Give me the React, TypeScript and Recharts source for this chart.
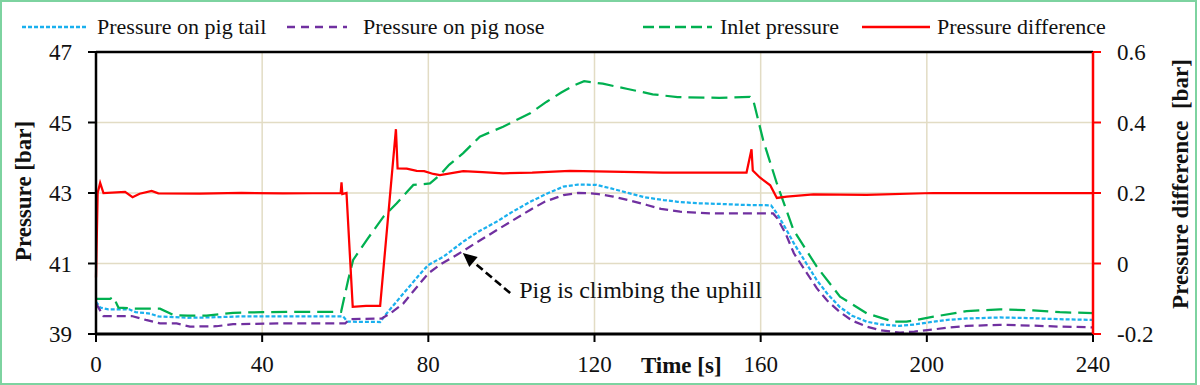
import React from 'react';
import { ComposedChart, Line, XAxis, YAxis, CartesianGrid, ReferenceLine } from 'recharts';

const FONT = '"Liberation Serif", "Times New Roman", serif';

// Axis ticks
const xTicks = [0, 40, 80, 120, 160, 200, 240];
const leftTicks = [39, 41, 43, 45, 47];
const rightTicks = [-0.2, 0, 0.2, 0.4, 0.6];

// Series names
const seriesNames = ['Pressure on pig tail', 'Pressure on pig nose', 'Inlet pressure', 'Pressure difference'];

// Pressure on pig tail [bar]
const tailTime = [0, 1, 3, 8, 9.5, 13, 15, 22, 27, 35, 50, 59.5, 60.5, 68.4, 70, 74, 78, 80, 83.6, 88.4, 92, 96.5, 100, 104.5, 108.5, 112.5, 116, 120.5, 124, 128.5, 132, 136.6, 140, 144.6, 150, 156.6, 162.5, 163.9, 166, 168, 171, 173.5, 176, 179, 182, 185.5, 189, 193.5, 197, 201.6, 205, 209.6, 217.6, 225, 232, 240];
const tailPressure = [39.92, 39.75, 39.7, 39.7, 39.62, 39.58, 39.5, 39.46, 39.47, 39.5, 39.5, 39.5, 39.35, 39.34, 39.59, 40.15, 40.7, 40.96, 41.19, 41.62, 41.9, 42.19, 42.45, 42.75, 42.98, 43.18, 43.24, 43.23, 43.13, 42.99, 42.88, 42.8, 42.75, 42.71, 42.69, 42.66, 42.65, 42.42, 42.0, 41.57, 41.0, 40.53, 40.15, 39.77, 39.52, 39.35, 39.27, 39.23, 39.27, 39.35, 39.4, 39.44, 39.47, 39.45, 39.42, 39.4];

// Pressure on pig nose [bar]
const noseTime = [0, 1.8, 8.6, 12, 15.4, 19.4, 22.6, 29, 33, 45, 60, 61, 68.8, 71, 74, 77, 80, 83, 86.8, 91, 96.5, 100, 104.5, 108, 112.5, 116, 118.9, 121, 124.5, 128, 132.6, 136, 140.6, 148.6, 158, 163, 164, 166, 168, 171, 173.5, 176, 179, 182, 185.5, 189, 193.5, 197, 201.6, 205, 209.6, 217.6, 225, 232, 240];
const nosePressure = [39.87, 39.51, 39.51, 39.4, 39.3, 39.3, 39.21, 39.22, 39.28, 39.3, 39.3, 39.42, 39.44, 39.6, 39.87, 40.3, 40.72, 40.98, 41.24, 41.55, 41.95, 42.2, 42.52, 42.75, 42.94, 43.0, 42.99, 42.97, 42.9, 42.8, 42.66, 42.55, 42.47, 42.42, 42.42, 42.42, 42.28, 41.85, 41.29, 40.75, 40.3, 39.95, 39.63, 39.38, 39.21, 39.1, 39.04, 39.07, 39.13, 39.18, 39.23, 39.26, 39.24, 39.21, 39.19];

// Inlet pressure [bar]
const inletTime = [0, 3.4, 4.2, 5.4, 9, 15.4, 18.6, 22, 26.6, 33, 40, 49, 59, 60.7, 61.9, 65.2, 69.2, 72.4, 75, 76.4, 80.4, 82.8, 85, 88.4, 92.4, 98, 104.5, 108.5, 112, 115, 117.5, 122, 128, 134, 140, 150, 157.4, 158.2, 160.6, 163.9, 167.9, 173.5, 179.1, 185.5, 191.9, 195.1, 201.6, 209.6, 217.6, 225.6, 232, 240];
const inletPressure = [40.0, 40.0, 40.05, 39.75, 39.72, 39.72, 39.54, 39.52, 39.52, 39.6, 39.62, 39.63, 39.63, 40.53, 41.1, 41.67, 42.33, 42.71, 43.05, 43.23, 43.27, 43.51, 43.8, 44.13, 44.6, 44.88, 45.26, 45.59, 45.85, 46.05, 46.17, 46.1, 45.95, 45.8, 45.72, 45.7, 45.73, 45.64, 44.5, 43.27, 41.95, 40.91, 40.06, 39.59, 39.35, 39.35, 39.49, 39.65, 39.7, 39.67, 39.62, 39.59];

// Pressure difference [bar]
const diffTime = [0, 0.4, 1.0, 1.8, 7, 8.8, 10.5, 13.4, 15, 25, 35, 45, 58.9, 59.1, 59.3, 60.3, 61.8, 65, 68.4, 72.2, 72.6, 74.8, 77.2, 79, 81.2, 82.8, 88.4, 93, 98, 105, 114.1, 120.5, 136.5, 146, 156.6, 157.8, 158.1, 159.8, 162.3, 163.9, 166.3, 172.7, 185.5, 201.5, 240];
const diffValues = [-0.04, 0.2, 0.229, 0.2, 0.203, 0.188, 0.198, 0.206, 0.199, 0.198, 0.2, 0.199, 0.2, 0.23, 0.197, 0.2, -0.123, -0.12, -0.12, 0.381, 0.27, 0.269, 0.263, 0.262, 0.254, 0.251, 0.262, 0.259, 0.256, 0.258, 0.263, 0.261, 0.258, 0.258, 0.258, 0.324, 0.264, 0.244, 0.222, 0.186, 0.19, 0.196, 0.195, 0.2, 0.2];

// Annotation
const annotationText = 'Pig is climbing the uphill';
const arrowFrom = { t: 99.7, p: 40.16 };
const arrowTo = { t: 88.3, p: 41.3 };

const zip = (ts: number[], vs: number[]) => ts.map((t, i) => ({ t, v: vs[i] }));
const tailData = zip(tailTime, tailPressure);
const noseData = zip(noseTime, nosePressure);
const inletData = zip(inletTime, inletPressure);
const diffData = zip(diffTime, diffValues);

const COLORS = ['#1ab0ee', '#7030a0', '#00b050', '#ff0000'];
const DASH_CHART = ['4 2', '9 5', '16 7', undefined];
const DASH_LEGEND = ['4 2', '8 6', '11 5', undefined];
const legendLayout = [
  { line: 22, w: 66, text: 97 },
  { line: 287, w: 60, text: 363 },
  { line: 643, w: 69, text: 720 },
  { line: 862, w: 68, text: 937 },
];

const ArrowShape = (props: any) => {
  const { x1, y1, x2, y2 } = props;
  const ang = Math.atan2(y2 - y1, x2 - x1);
  const L = 14;
  const W = 6.5;
  const bx = x2 - L * Math.cos(ang);
  const by = y2 - L * Math.sin(ang);
  const px = -Math.sin(ang) * W;
  const py = Math.cos(ang) * W;
  return (
    <g>
      <line x1={x1} y1={y1} x2={bx} y2={by} stroke="#000" strokeWidth={2.6} strokeDasharray="8 4" />
      <polygon points={`${x2},${y2} ${bx + px},${by + py} ${bx - px},${by - py}`} fill="#000" />
      <text x={x1 + 9} y={y1 + 5} fontFamily={FONT} fontSize={24} fill="#111">
        {annotationText}
      </text>
    </g>
  );
};

const makeTick = (anchor: 'start' | 'middle' | 'end', dy: string) => (props: any) => {
  const { x, y, payload } = props;
  return (
    <text x={x} y={y} dy={dy} textAnchor={anchor} fontFamily={FONT} fontSize={23} fill="#111">
      {String(payload.value)}
    </text>
  );
};
const xTick = makeTick('middle', '0.71em');
const leftTick = makeTick('end', '0.355em');
const rightTick = makeTick('start', '0.355em');

export default function App() {
  return (
    <div style={{ position: 'absolute', left: 0, top: 0, width: 1200, height: 385, background: '#fff' }}>
      <div
        style={{
          position: 'absolute',
          left: 0,
          top: 0,
          width: 1197,
          height: 385,
          boxSizing: 'border-box',
          border: '2.5px solid #7dd3a0',
        }}
      />
      <ComposedChart width={1200} height={385} margin={{ top: 52, right: 0, bottom: 0, left: 0 }}>
        <CartesianGrid yAxisId="left" stroke="#e2dcc4" strokeWidth={1.5} />
        <XAxis
          type="number"
          dataKey="t"
          domain={[0, 240]}
          ticks={xTicks}
          height={51}
          tickSize={8}
          tickMargin={14}
          axisLine={{ stroke: '#000', strokeWidth: 3 }}
          tickLine={{ stroke: '#000', strokeWidth: 2 }}
          tick={xTick}
          interval={0}
          label={(p: any) => {
            const vb = p.viewBox;
            return (
              <text x={vb.x + vb.width * 0.587} y={vb.y + 39} textAnchor="middle" fontFamily={FONT} fontSize={23} fontWeight="bold" fill="#111">
                Time [s]
              </text>
            );
          }}
        />
        <YAxis
          yAxisId="left"
          domain={[39, 47]}
          ticks={leftTicks}
          width={96}
          tickSize={8}
          tickMargin={16}
          interval={0}
          axisLine={{ stroke: '#000', strokeWidth: 2.5 }}
          tickLine={{ stroke: '#000', strokeWidth: 2 }}
          tick={leftTick}
          label={(p: any) => {
            const vb = p.viewBox;
            const cx = vb.x + 23;
            const cy = vb.y + vb.height / 2 - 2;
            return (
              <text x={cx} y={cy} transform={`rotate(-90 ${cx} ${cy})`} textAnchor="middle" dominantBaseline="central" fontFamily={FONT} fontSize={23} fontWeight="bold" fill="#111">
                Pressure [bar]
              </text>
            );
          }}
        />
        <YAxis
          yAxisId="right"
          orientation="right"
          domain={[-0.2, 0.6]}
          ticks={rightTicks}
          width={107}
          tickSize={8}
          tickMargin={16}
          interval={0}
          axisLine={{ stroke: '#ff0000', strokeWidth: 2.5 }}
          tickLine={{ stroke: '#ff0000', strokeWidth: 2 }}
          tick={rightTick}
          label={(p: any) => {
            const vb = p.viewBox;
            const cx = vb.x + 87;
            const cy = vb.y + vb.height / 2 - 9;
            return (
              <text x={cx} y={cy} transform={`rotate(-90 ${cx} ${cy})`} textAnchor="middle" dominantBaseline="central" fontFamily={FONT} fontSize={23} fontWeight="bold" fill="#111" style={{ whiteSpace: 'pre' }}>
                {'Pressure difference  [bar]'}
              </text>
            );
          }}
        />
        <ReferenceLine yAxisId="left" y={47} stroke="#000" strokeWidth={2.5} />
        <Line data={tailData} dataKey="v" yAxisId="left" type="linear" stroke={COLORS[0]} strokeWidth={2.25} strokeDasharray={DASH_CHART[0]} dot={false} activeDot={false} isAnimationActive={false} name={seriesNames[0]} />
        <Line data={noseData} dataKey="v" yAxisId="left" type="linear" stroke={COLORS[1]} strokeWidth={2.25} strokeDasharray={DASH_CHART[1]} dot={false} activeDot={false} isAnimationActive={false} name={seriesNames[1]} />
        <Line data={inletData} dataKey="v" yAxisId="left" type="linear" stroke={COLORS[2]} strokeWidth={2.25} strokeDasharray={DASH_CHART[2]} dot={false} activeDot={false} isAnimationActive={false} name={seriesNames[2]} />
        <Line data={diffData} dataKey="v" yAxisId="right" type="linear" stroke={COLORS[3]} strokeWidth={2.25} dot={false} activeDot={false} isAnimationActive={false} name={seriesNames[3]} />
        <ReferenceLine
          yAxisId="left"
          segment={[
            { x: arrowFrom.t, y: arrowFrom.p },
            { x: arrowTo.t, y: arrowTo.p },
          ]}
          shape={ArrowShape}
        />
      </ComposedChart>
      {seriesNames.map((name, i) => (
        <div key={name} style={{ position: 'absolute', left: 0, top: 14, height: 26 }}>
          <svg style={{ position: 'absolute', left: legendLayout[i].line, top: 10 }} width={legendLayout[i].w} height={6}>
            <line x1={0} y1={3} x2={legendLayout[i].w} y2={3} stroke={COLORS[i]} strokeWidth={2.5} strokeDasharray={DASH_LEGEND[i]} />
          </svg>
          <span
            style={{
              position: 'absolute',
              left: legendLayout[i].text,
              top: 0,
              whiteSpace: 'nowrap',
              fontFamily: FONT,
              fontSize: 22,
              lineHeight: '26px',
              color: '#111',
            }}
          >
            {name}
          </span>
        </div>
      ))}
    </div>
  );
}
